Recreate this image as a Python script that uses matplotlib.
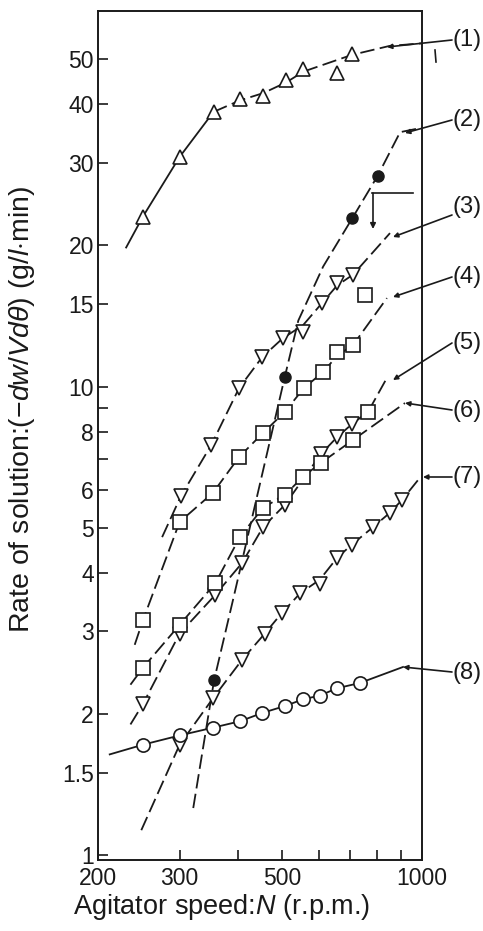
import matplotlib
matplotlib.use("Agg")
import matplotlib.pyplot as plt
from matplotlib.ticker import FixedLocator, NullLocator, FixedFormatter

plt.rcParams['font.family'] = ['Liberation Sans', 'DejaVu Sans']
plt.rcParams['mathtext.fontset'] = 'custom'
plt.rcParams['mathtext.it'] = 'Liberation Sans:italic'
plt.rcParams['mathtext.rm'] = 'Liberation Sans'

# ---------------- data ----------------
# (1) open up-triangles
s1_N = [250, 300, 355, 405, 455, 510, 555, 655, 705]
s1_y = [23.05, 30.9, 38.55, 41.0, 41.6, 45.1, 47.6, 46.6, 51.3]
c1a_N = [230, 250, 300, 355]            # solid part of the guide line
c1a_y = [19.8, 23.05, 30.9, 38.55]
c1b_N = [355, 405, 455, 510, 555, 705, 850, 1000]   # dashed part
c1b_y = [38.55, 40.8, 42.3, 44.6, 47.0, 51.0, 53.3, 54.0]
# (2) filled circles
s2_N = [356, 506, 708, 803]
s2_y = [2.36, 10.5, 22.9, 28.2]
c2_N = [321, 356, 391, 506, 541, 612, 708, 803, 897, 990]
c2_y = [1.26, 2.36, 3.50, 10.5, 13.83, 18.03, 22.9, 28.2, 34.9, 35.6]
# (3) open down-triangles
s3_N = [302, 351, 403, 452, 501, 554, 609, 656, 710]
s3_y = [5.84, 7.50, 9.92, 11.55, 12.68, 13.06, 15.08, 16.63, 17.33]
c3_N = [275, 302, 351, 403, 452, 501, 554, 609, 656, 710, 853]
c3_y = [4.77, 5.84, 7.50, 9.92, 11.55, 12.68, 13.52, 15.08, 16.43, 17.33, 21.25]
# (4) open squares
s4_N = [250, 300, 354, 403, 454, 506, 556, 612, 656, 710, 753]
s4_y = [3.17, 5.14, 5.93, 7.07, 7.96, 8.83, 9.92, 10.74, 11.85, 12.26, 15.64]
c4_N = [240, 250, 300, 354, 403, 454, 506, 556, 612, 656, 710, 840]
c4_y = [2.81, 3.17, 5.14, 5.93, 7.07, 7.96, 8.83, 9.92, 10.74, 11.63, 12.26, 15.44]
# (5) open down-triangles (+ one square)
s5_N = [250, 300, 358, 409, 454, 506, 605, 656, 706]
s5_y = [2.10, 2.97, 3.59, 4.20, 5.01, 5.59, 7.17, 7.80, 8.31]
s5q_N = [765]
s5q_y = [8.83]
c5_N = [235, 250, 300, 358, 409, 454, 506, 605, 656, 706, 765, 840]
c5_y = [1.90, 2.10, 2.97, 3.59, 4.20, 5.01, 5.59, 7.17, 7.80, 8.31, 8.83, 10.43]
# (6) open squares
s6_N = [250, 300, 358, 405, 454, 506, 554, 605, 710]
s6_y = [2.51, 3.10, 3.80, 4.78, 5.51, 5.87, 6.42, 6.87, 7.69]
c6_N = [235, 250, 300, 358, 405, 454, 506, 554, 605, 710, 919]
c6_y = [2.31, 2.51, 3.10, 3.80, 4.78, 5.51, 5.87, 6.42, 6.87, 7.69, 9.22]
# (7) open down-triangles
s7_N = [300, 354, 409, 458, 499, 546, 602, 656, 706, 784, 853, 906]
s7_y = [1.72, 2.16, 2.61, 2.97, 3.29, 3.62, 3.78, 4.31, 4.60, 5.01, 5.38, 5.73]
c7_N = [248, 300, 354, 409, 458, 499, 546, 602, 656, 706, 784, 853, 906, 990]
c7_y = [1.13, 1.72, 2.16, 2.61, 2.97, 3.29, 3.62, 3.87, 4.31, 4.60, 5.01, 5.38, 5.73, 6.39]
# (8) open circles
s8_N = [250, 300, 354, 405, 452, 506, 554, 602, 656, 735]
s8_y = [1.72, 1.80, 1.87, 1.93, 2.01, 2.08, 2.15, 2.19, 2.27, 2.33]
c8_N = [212, 250, 300, 354, 405, 452, 506, 554, 602, 656, 735, 910]
c8_y = [1.64, 1.72, 1.80, 1.87, 1.93, 2.01, 2.08, 2.15, 2.19, 2.27, 2.33, 2.52]

series_labels = ['(1)', '(2)', '(3)', '(4)', '(5)', '(6)', '(7)', '(8)']
x_ticks = [200, 300, 400, 500, 600, 700, 800, 900, 1000]
x_ticklabels = ['200', '300', '', '500', '', '', '', '', '1000']
y_ticks = [1, 1.5, 2, 3, 4, 5, 6, 7, 8, 9, 10, 15, 20, 30, 40, 50]
y_ticklabels = ['1', '1.5', '2', '3', '4', '5', '6', '', '8', '', '10', '15', '20', '30', '40', '50']

# ---------------- figure ----------------
W, H = 483, 931
fig = plt.figure(figsize=(W / 100, H / 100), dpi=100)
fig.patch.set_facecolor('white')
L, R, B, T = 98, 422, 860, 11
ax = fig.add_axes([L / W, 1 - B / H, (R - L) / W, (B - T) / H])
ax.set_xscale('log')
ax.set_yscale('log')
ax.set_xlim(200, 1000)
ax.set_ylim(0.976, 63.3)

ink = '#1a1a1a'
lw = 1.3
dash = (8, 3)
mk = dict(markersize=10, markeredgewidth=1.2, markeredgecolor=ink, markerfacecolor='white',
          linestyle='none', zorder=5)
mks = dict(mk, markersize=9.5)

curves = [(c1a_N, c1a_y), (c1b_N, c1b_y), (c2_N, c2_y), (c3_N, c3_y), (c4_N, c4_y),
          (c5_N, c5_y), (c6_N, c6_y), (c7_N, c7_y), (c8_N, c8_y)]
styles = ['-', '--', '--', '--', '--', '--', '--', '--', '-']
for (cn, cy), st in zip(curves, styles):
    line, = ax.plot(cn, cy, color=ink, lw=lw, linestyle=st, zorder=3)
    if st == '--':
        line.set_dashes(dash)

ax.plot(s1_N, s1_y, marker='^', **mk)
ax.plot(s2_N, s2_y, marker='o', markersize=8, markeredgewidth=1.0, markeredgecolor=ink,
        markerfacecolor=ink, linestyle='none', zorder=5)
ax.plot(s3_N, s3_y, marker='v', **mk)
ax.plot(s4_N, s4_y, marker='s', **mks)
ax.plot(s5_N, s5_y, marker='v', **mk)
ax.plot(s5q_N, s5q_y, marker='s', **mks)
ax.plot(s6_N, s6_y, marker='s', **mks)
ax.plot(s7_N, s7_y, marker='v', **mk)
ax.plot(s8_N, s8_y, marker='o', **mks)

# ticks
ax.xaxis.set_major_locator(FixedLocator(x_ticks))
ax.xaxis.set_major_formatter(FixedFormatter(x_ticklabels))
ax.xaxis.set_minor_locator(NullLocator())
ax.yaxis.set_major_locator(FixedLocator(y_ticks))
ax.yaxis.set_major_formatter(FixedFormatter(y_ticklabels))
ax.yaxis.set_minor_locator(NullLocator())
ax.tick_params(axis='both', direction='in', length=7, width=1.2, colors=ink,
               labelsize=16.5, top=False, right=False)
ax.tick_params(axis='y', pad=3)
ax.tick_params(axis='x', pad=5)
for s in ax.spines.values():
    s.set_linewidth(1.4)
    s.set_color(ink)

ax.set_xlabel(r'Agitator speed:$N$ (r.p.m.)', fontsize=19.5, color=ink)
ax.xaxis.set_label_coords((222 - L) / (R - L), (B - 892) / (B - T))
ax.set_ylabel(r'Rate of solution:$(-dw/Vd\theta)$ (g/$l$$\cdot$min)', fontsize=20.5, color=ink)
ax.yaxis.set_label_coords((37 - L) / (R - L), (B - 409) / (B - T))

# label leaders (pixel positions: curve-side end, label-side end, text)
lead_start = [(387, 47), (405, 133), (393, 237), (393, 297), (393, 380), (405, 403), (423, 477), (403, 667)]
lead_end = [(452, 40), (452, 120), (452, 215), (452, 277), (452, 343), (452, 410), (452, 477), (452, 672)]
text_y = [40, 120, 207, 277, 343, 411, 477, 673]
for lab, (x0, y0), (x1, y1), ty in zip(series_labels, lead_start, lead_end, text_y):
    ax.annotate('', xy=(x0 / W, 1 - y0 / H), xytext=(x1 / W, 1 - y1 / H),
                xycoords='figure fraction', textcoords='figure fraction',
                arrowprops=dict(arrowstyle='-|>', color=ink, lw=1.2, mutation_scale=7,
                                shrinkA=0, shrinkB=0), annotation_clip=False)
    fig.text(453 / W, 1 - ty / H, lab, fontsize=17, color=ink, va='center', ha='left')

# little marks near (1) and bracket near (2)
fig.add_artist(plt.Line2D([435 / W, 436 / W], [1 - 50 / H, 1 - 62 / H], color=ink, lw=1.2))
fig.add_artist(plt.Line2D([372 / W, 413 / W], [1 - 193 / H, 1 - 193 / H], color=ink, lw=1.2))
ax.annotate('', xy=(373 / W, 1 - 229 / H), xytext=(373 / W, 1 - 193 / H),
            xycoords='figure fraction', textcoords='figure fraction',
            arrowprops=dict(arrowstyle='-|>', color=ink, lw=1.2, mutation_scale=8,
                            shrinkA=0, shrinkB=0), annotation_clip=False)

fig.savefig('out.png', dpi=100, facecolor='white')
